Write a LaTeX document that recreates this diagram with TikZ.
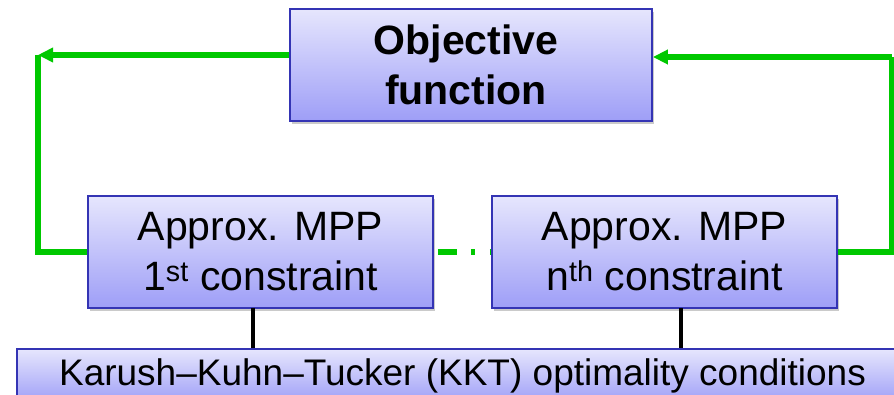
\documentclass[tikz,border=0pt]{standalone}
\usepackage{fontspec}
\setmainfont{Liberation Sans}
\usetikzlibrary{arrows.meta,shadows}
\definecolor{boxline}{HTML}{3434B4}
\definecolor{boxtop}{HTML}{E6E6FD}
\definecolor{boxbot}{HTML}{9E9EF7}
\definecolor{lgreen}{HTML}{00C800}
\tikzset{
  pbox/.style={draw=boxline, line width=1.8pt, top color=boxtop, bottom color=boxbot,
    drop shadow={shadow xshift=2pt, shadow yshift=-3pt, opacity=0.35, fill=black!60},
    inner sep=0pt, align=center, text=black},
  gline/.style={draw=lgreen, line width=5.5pt},
  kline/.style={draw=black, line width=4.5pt},
  gtip/.style={-{Triangle[length=15pt,width=14pt]}}
}
\begin{document}
\begin{tikzpicture}[x=1pt,y=-1pt]
\useasboundingbox (0,0) rectangle (894,395);
\node[pbox, minimum width=362pt, minimum height=112pt, font=\fontsize{41}{50}\selectfont\bfseries] (obj) at (471,65) {Objective\hspace*{10pt}\\function\hspace*{10pt}};
\node[pbox, minimum width=345pt, minimum height=112pt, font=\fontsize{41}{50}\selectfont] (c1) at (260.5,252) {Approx. MPP\\1\textsuperscript{st} constraint};
\node[pbox, minimum width=345pt, minimum height=112pt, font=\fontsize{41}{50}\selectfont] (cn) at (664.5,252) {Approx. MPP\\n\textsuperscript{th} constraint};
\node[pbox, minimum width=885pt, minimum height=54pt, font=\fontsize{37}{44}\selectfont] (kkt) at (459.5,376) {Karush\textendash Kuhn\textendash Tucker (KKT) optimality conditions\hspace*{-6pt}};
\coordinate (cl) at (38,55);
\coordinate (cr) at (892,57);
\draw[gline, gtip] (obj.west |- cl) -- (cl);
\draw[gline] (cl) |- (c1.west);
\draw[gline] (cn.east) -| (cr);
\draw[gline, gtip] (cr) -- (obj.east |- cr);
\draw[draw=lgreen, line width=5.5pt, dash pattern=on 0pt off 4pt on 19pt off 14pt on 4pt off 15pt on 6pt off 20pt] (c1.east) -- (cn.west);
\draw[kline] (253,308) coordinate (k1) -- (k1 |- kkt.north);
\draw[kline] (681,308) coordinate (k2) -- (k2 |- kkt.north);
\end{tikzpicture}
\end{document}
